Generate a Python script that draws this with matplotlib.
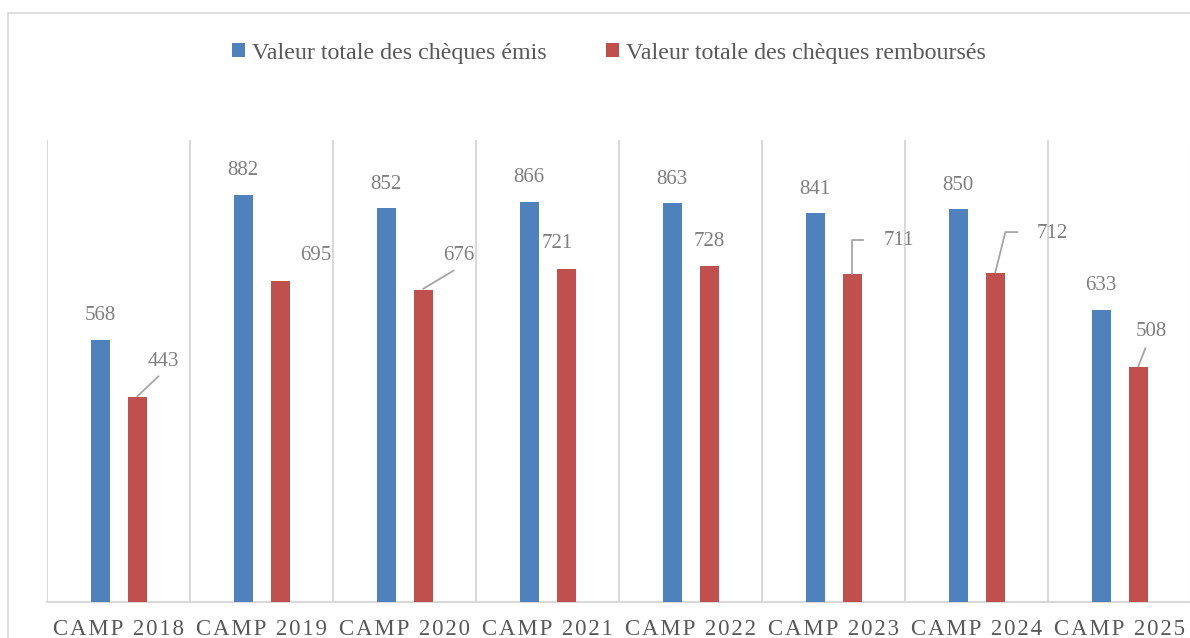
import matplotlib
matplotlib.use("Agg")
import matplotlib.pyplot as plt
from matplotlib.patches import Rectangle
import numpy as np

categories = ["CAMP 2018", "CAMP 2019", "CAMP 2020", "CAMP 2021",
              "CAMP 2022", "CAMP 2023", "CAMP 2024", "CAMP 2025"]
emis = [568, 882, 852, 866, 863, 841, 850, 633]
rembourses = [443, 695, 676, 721, 728, 711, 712, 508]
series_names = ["Valeur totale des chèques émis",
                "Valeur totale des chèques remboursés"]

# label offsets in pixels (dx, dy) relative to bar top centre
emis_lbl_off = [(0, 24)] * 8
remb_lbl_off = [(26, 36), (35, 25), (35, 34), (-9, 25), (0, 24), (46, 33), (57, 40), (13, 36)]
# leader lines (pixel offsets from bar top centre), None if none
remb_leaders = [[(0, 1), (21, 21)], None, [(0, 1), (30, 19)], None, None,
                [(0, 0), (0, 34), (11, 34)], [(0, 1), (10, 41), (22, 41)],
                [(0, 1), (7, 19)]]

BLUE = "#4f81bd"
RED = "#c0504d"
GRID = "#d9d9d9"
LBL = "#7f7f7f"
TXT = "#595959"
FONT = ["Liberation Serif", "DejaVu Serif"]

plt.rcParams['font.family'] = FONT

W, H = 1190, 638
fig = plt.figure(figsize=(W / 100, H / 100), dpi=100)
ax = fig.add_axes([47 / W, 1 - 602 / H, 1144 / W, 462 / H])

# chart border
fig.patches.append(Rectangle((8 / W, -0.1), 1.2, (H - 13) / H + 0.1,
                             transform=fig.transFigure, fill=False,
                             edgecolor=GRID, lw=1.2))

x = np.arange(len(categories))
bw = 0.135
b1 = ax.bar(x - 0.128, emis, bw, color=BLUE, label=series_names[0], zorder=3)
b2 = ax.bar(x + 0.132, rembourses, bw, color=RED, label=series_names[1], zorder=3)

ax.set_xlim(-0.5, len(categories) - 0.5)
ax.set_ylim(0, 1000)
for s in ax.spines.values():
    s.set_visible(False)
ax.set_yticks([])
for b in np.arange(-0.5, len(categories), 1.0):
    ax.axvline(b, color=GRID, lw=1.5, zorder=1)
ax.axhline(0, color=GRID, lw=1.5, zorder=2, clip_on=False)

spaced = ["\u200a".join(list(c)) for c in categories]
ax.set_xticks(x)
ax.set_xticklabels(spaced, fontsize=16.5, color=TXT)
ax.tick_params(axis='x', length=0, pad=12)

fig.canvas.draw()
tr = ax.transData

for i, v in enumerate(emis):
    ax.annotate(str(v), (x[i] - 0.128, v), xytext=emis_lbl_off[i],
                textcoords='offset pixels', ha='center', va='center',
                fontsize=15, color=LBL)
for i, v in enumerate(rembourses):
    ax.annotate(str(v), (x[i] + 0.132, v), xytext=remb_lbl_off[i],
                textcoords='offset pixels', ha='center', va='center',
                fontsize=15, color=LBL)
    if remb_leaders[i]:
        px, py = tr.transform((x[i] + 0.132, v))
        pts = [(px + dx, py + dy) for dx, dy in remb_leaders[i]]
        xs, ys = zip(*pts)
        ax.plot(xs, ys, transform=None, color="#a6a6a6", lw=1.3, zorder=4)

ax.legend(loc='center', bbox_to_anchor=(609 / W, 1 - 53 / H), bbox_transform=fig.transFigure,
          ncol=2, frameon=False, fontsize=17.3, labelcolor=TXT, handlelength=0.55,
          handleheight=0.55, handletextpad=0.3, columnspacing=2.45)

fig.savefig("out.png", dpi=100)
